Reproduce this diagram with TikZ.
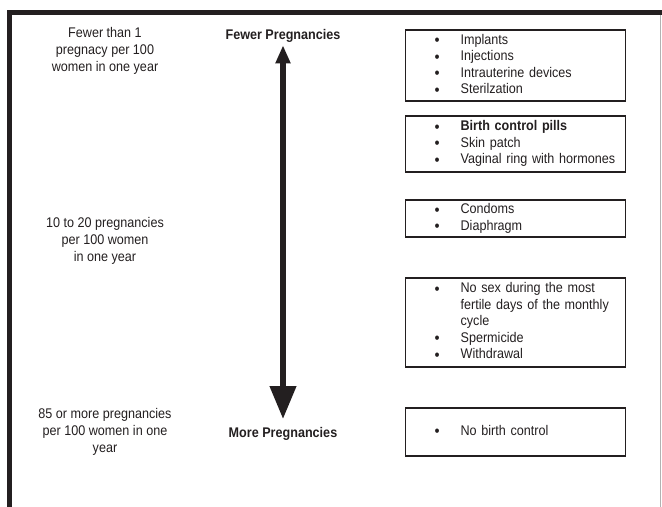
\documentclass[tikz,border=0pt]{standalone}
\usepackage{fontspec}
\usepackage{array}
\setmainfont[FakeStretch=0.9]{Liberation Sans}
\usetikzlibrary{arrows.meta}
\definecolor{ink}{RGB}{35,31,32}
\newcommand{\dotmark}{\raisebox{-1.5bp}{\fontsize{16bp}{16.5bp}\selectfont\textbullet}}
\newcommand{\methods}[1]{\begin{tabular}{@{\hspace{29bp}}p{26bp}@{}>{\raggedright\arraybackslash}p{160bp}@{}}#1\end{tabular}}

\begin{document}
\begin{tikzpicture}[x=1bp, y=-1bp,
	every node/.style={text=ink, font=\fontsize{14bp}{17bp}\selectfont},
	rate/.style={align=center},
	pole/.style={inner sep=0, font=\fontsize{14bp}{17bp}\selectfont\bfseries},
	methodbox/.style={draw=ink, line width=1.2bp, anchor=west, text width=220bp, inner xsep=0, inner ysep=0, align=left, font=\fontsize{14bp}{16.5bp}\selectfont}]
	\useasboundingbox (0,0) rectangle (662,507);
	\draw[ink, line width=5bp] (9.5,507) -- (9.5,12.5) -- (662,12.5);
	\draw[gray!60, line width=1bp] (660.5,15) -- (660.5,507);
	% rates
	\node (R1) at (105, 51)	[rate]	{Fewer than 1\\pregnacy per 100\\women in one year};
	\node (R2) at (105, 241)	[rate]	{10 to 20 pregnancies\\per 100 women\\in one year};
	\node (R3) at (105, 432)	[rate]	{85 or more pregnancies\\per 100 women in one\\year};
	% scale
	\node (F) at (283, 36)	[pole]	{Fewer Pregnancies};
	\node (M) at (283, 434)	[pole]	{More Pregnancies};
	\draw[ink, line width=6.5bp, {Triangle[length=18bp,width=14bp]}-{Triangle[length=33bp,width=25bp]}, shorten <=2.5bp, shorten >=8bp] (F) -- (M);
	% methods
	\node (B1) at (405, 65.5)	[methodbox, minimum height=71bp]	{\methods{\dotmark & Implants\\ \dotmark & Injections\\ \dotmark & Intrauterine devices\\ \dotmark & Sterilzation}};
	\node (B2) at (405, 144)	[methodbox, minimum height=56bp]	{\methods{\dotmark & \textbf{Birth control pills}\\ \dotmark & Skin patch\\ \dotmark & Vaginal ring with hormones}};
	\node (B3) at (405, 218.5)	[methodbox, minimum height=37bp]	{\methods{\dotmark & Condoms\\ \dotmark & Diaphragm}};
	\node (B4) at (405, 322.5)	[methodbox, minimum height=89bp]	{\methods{\dotmark & No sex during the most\newline fertile days of the monthly\newline cycle\\ \dotmark & Spermicide\\ \dotmark & Withdrawal}};
	\node (B5) at (405, 432)	[methodbox, minimum height=48bp]	{\methods{\dotmark & No birth control}};
\end{tikzpicture}
\end{document}
